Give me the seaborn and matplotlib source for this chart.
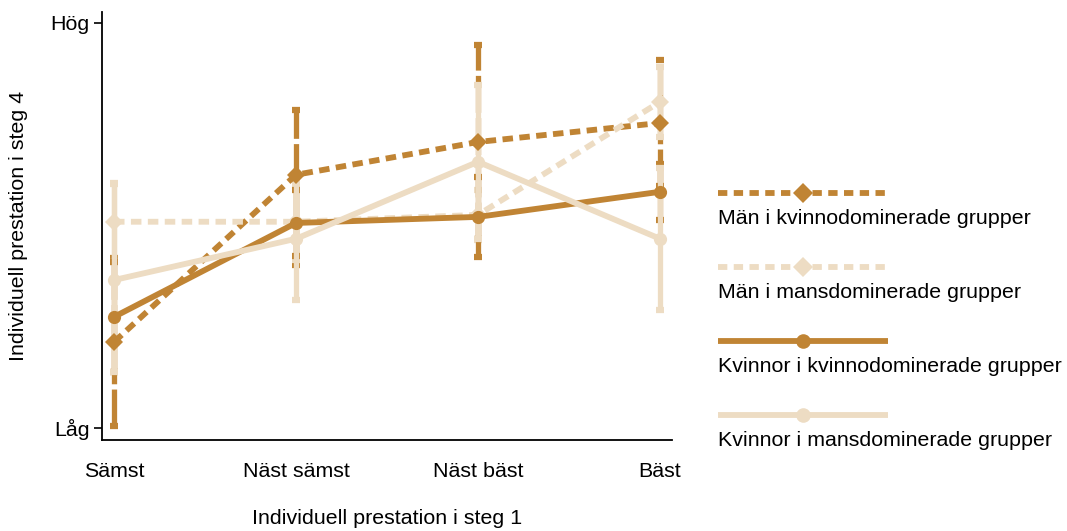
import pandas as pd
import numpy as np
import matplotlib
matplotlib.use("Agg")
import matplotlib.pyplot as plt
import seaborn as sns

# Kategorier och serier (skala 0 = Låg, 10 = Hög)
kategorier = ["Sämst", "Näst sämst", "Näst bäst", "Bäst"]
grupper = ["Män i kvinnodominerade grupper",
           "Män i mansdominerade grupper",
           "Kvinnor i kvinnodominerade grupper",
           "Kvinnor i mansdominerade grupper"]

man_kvinnodom = [2.12, 6.25, 7.06, 7.53]
man_mansdom = [5.09, 5.09, 5.26, 8.05]
kvinnor_kvinnodom = [2.74, 5.06, 5.21, 5.83]
kvinnor_mansdom = [3.65, 4.67, 6.57, 4.67]

# Konfidensintervall: nedre / övre gräns
man_kvinnodom_lo = [0.05, 4.02, 4.67, 5.98]
man_kvinnodom_hi = [4.20, 7.85, 9.46, 9.09]
man_mansdom_lo = [4.10, 4.15, 4.64, 7.19]
man_mansdom_hi = [6.05, 6.00, 5.88, 8.91]
kvinnor_kvinnodom_lo = [1.38, 4.25, 4.22, 5.14]
kvinnor_kvinnodom_hi = [4.10, 5.88, 6.20, 6.52]
kvinnor_mansdom_lo = [1.38, 3.16, 4.67, 2.91]
kvinnor_mansdom_hi = [6.02, 6.12, 8.47, 6.42]

medel = [man_kvinnodom, man_mansdom, kvinnor_kvinnodom, kvinnor_mansdom]
nedre = [man_kvinnodom_lo, man_mansdom_lo, kvinnor_kvinnodom_lo, kvinnor_mansdom_lo]
ovre = [man_kvinnodom_hi, man_mansdom_hi, kvinnor_kvinnodom_hi, kvinnor_mansdom_hi]

rows = []
for g, m, lo, hi in zip(grupper, medel, nedre, ovre):
    for i, k in enumerate(kategorier):
        rows.append({"grupp": g, "steg": k, "x": i, "v": m[i], "lo": lo[i], "hi": hi[i]})
df = pd.DataFrame(rows)

mork = "#c08434"
ljus = "#eddcc3"
palette = {grupper[0]: mork, grupper[1]: ljus, grupper[2]: mork, grupper[3]: ljus}
streck = (1.8, 1.1)
dashes = {grupper[0]: streck, grupper[1]: streck, grupper[2]: "", grupper[3]: ""}
markers = {grupper[0]: "D", grupper[1]: "D", grupper[2]: "o", grupper[3]: "o"}

sns.set_style("white")
plt.rcParams["font.family"] = ["Liberation Sans", "DejaVu Sans"]
plt.rcParams["text.color"] = "black"
plt.rcParams["xtick.color"] = "black"
plt.rcParams["ytick.color"] = "black"
plt.rcParams["axes.labelcolor"] = "black"

fs = 15.4

fig = plt.figure(figsize=(10.67, 5.31), dpi=100)
ax = fig.add_axes([102 / 1067, 91 / 531, 570 / 1067, 428 / 531])

# Felstaplar
for g in grupper:
    sub = df[df.grupp == g]
    eb = ax.errorbar(sub.x, sub.v, yerr=[sub.v - sub.lo, sub.hi - sub.v], fmt="none",
                     ecolor=palette[g], elinewidth=3.8, capsize=3, capthick=4.5, zorder=2)
    if dashes[g]:
        eb.lines[2][0].set_linestyle((0, (7, 1)))

# Linjer med markörer
sns.lineplot(data=df, x="x", y="v", hue="grupp", style="grupp", palette=palette,
             dashes=dashes, markers=markers, markersize=9.5, markeredgewidth=0,
             linewidth=4.2, legend=False, sort=False, ax=ax, zorder=3)

ax.set_xlim(-0.066, 3.066)
ax.set_ylim(-0.3, 10.27)
ax.set_xticks(range(len(kategorier)), kategorier)
ax.set_yticks([0, 10], ["Låg", "Hög"])
ax.tick_params(axis="x", length=0, pad=16, labelsize=fs)
ax.tick_params(axis="y", length=6, width=1.2, pad=3, labelsize=fs, left=True)
ax.set_xlabel("Individuell prestation i steg 1", fontsize=fs, labelpad=20)
ax.set_ylabel("Individuell prestation i steg 4", fontsize=fs, labelpad=16)
sns.despine(ax=ax)
for s in ["left", "bottom"]:
    ax.spines[s].set_linewidth(1.3)
    ax.spines[s].set_color("black")

# Egen förklaring: linje ovanför texten
lax = fig.add_axes([718 / 1067, 0, 170 / 1067, 1])
lax.set_xlim(0, 1)
lax.set_ylim(531, 0)
lax.axis("off")
for i, g in enumerate(grupper):
    y = 193 + i * 74
    if dashes[g]:
        lax.plot([0, 1], [y, y], color=palette[g], linewidth=4.2, dashes=(1.6, 1.1))
    else:
        lax.plot([0, 1], [y, y], color=palette[g], linewidth=4.2)
    lax.plot([0.5], [y], marker=markers[g], color=palette[g], markersize=10.5, markeredgewidth=0)
    lax.text(0, y + 25, g, fontsize=fs, va="center", ha="left")

fig.savefig("out.png", dpi=100)
